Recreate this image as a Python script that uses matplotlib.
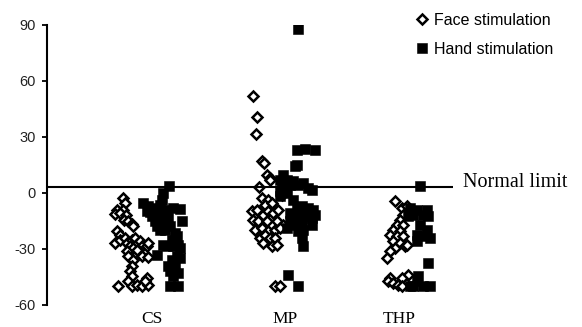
import matplotlib

matplotlib.use("Agg")
import matplotlib.pyplot as plt

categories = ["CS", "MP", "THP"]
category_x = [152, 285, 399]
normal_limit = 3
y_ticks = [-60, -30, 0, 30, 60, 90]

# Face stimulation (open diamonds): horizontal scatter position and value
cs_face_x = [123, 125, 117, 123, 115, 120, 126, 124, 128, 132, 133, 117, 120, 115, 120, 125,
             127, 132, 135, 137, 140, 143, 147, 148, 130, 133, 137, 127, 128, 133, 132, 130,
             132, 142, 148, 118, 128, 132, 137, 142, 147, 148, 145]
cs_face_y = [-2.7, -5.4, -8.9, -9.3, -11.3, -10.7, -11.6, -14.3, -15.2, -16.4, -17.9, -20.6,
             -22.3, -26.8, -25, -24.1, -26.8, -25.4, -24.1, -27.2, -25.9, -27.7, -28.6, -26.8,
             -28.6, -29.5, -30.4, -31.3, -34, -35.7, -39.3, -42, -44.3, -34, -34.3, -50, -47.4,
             -50, -49.1, -50, -45.5, -49.1, -47.4]
mp_face_x = [253, 257, 256, 262, 264, 267, 270, 270, 259, 262, 268, 265, 272, 252, 257, 263,
             268, 273, 278, 253, 258, 267, 277, 283, 255, 262, 268, 275, 280, 260, 265, 270,
             275, 263, 272, 277, 275, 280, 282]
mp_face_y = [52, 40.7, 31.6, 17.3, 16, 9.8, 8, 7.1, 3, -2.7, -3.6, -6.3, -5.4, -9.8, -8.9,
             -11.6, -9.8, -10.7, -8.9, -14.3, -15.2, -15.2, -15.2, -17, -19.7, -18.8, -20.6,
             -19.7, -18.8, -24.1, -22.3, -24.1, -24.1, -26.8, -28.6, -27.7, -50, -50, -0.9]
thp_face_x = [395, 402, 407, 403, 400, 397, 403, 393, 400, 390, 397, 403, 393, 400, 405, 395,
              390, 387, 407, 408, 402, 390, 388, 393, 398, 402]
thp_face_y = [-4.5, -8, -7.1, -11.6, -14.3, -17, -17, -19.7, -20.6, -22.3, -23.2, -23.2, -25.9,
              -26.8, -28.6, -29.5, -31.3, -34.8, -27.7, -43.8, -45.5, -45.5, -47.4, -48.2,
              -49.1, -50]

# Hand stimulation (filled squares)
cs_hand_x = [169, 163, 162, 160, 143, 148, 153, 157, 167, 173, 180, 182, 152, 155, 157, 160,
             165, 163, 168, 170, 175, 177, 172, 178, 180, 163, 157, 167, 173, 177, 180, 172,
             168, 175, 178, 170, 173, 178, 170, 147, 158, 162, 150, 165]
cs_hand_y = [3.5, 0, -3.6, -6.3, -5.4, -7.1, -8, -10.7, -8.9, -8, -8.6, -15.2, -12.3, -15.2,
             -17.9, -19.7, -16.1, -12.3, -13.4, -17.9, -21.4, -23.2, -25, -27.7, -29.5, -27.7,
             -33, -28.6, -28.6, -34, -34.8, -35.7, -39.3, -38.4, -42.9, -42, -44.6, -50, -50,
             -9.8, -12, -15, -10, -20]
mp_hand_x = [298, 297, 305, 315, 295, 297, 283, 280, 287, 293, 282, 290, 298, 303, 308, 312,
             280, 287, 280, 293, 297, 302, 308, 313, 290, 295, 300, 307, 312, 315, 290, 295,
             302, 312, 287, 298, 303, 302, 303, 288, 298]
mp_hand_y = [88, 23.2, 23.7, 23.2, 14.3, 15.2, 9.8, 7.1, 7.1, 6.2, 4.5, 4.5, 4.5, 5.4, 2.7,
             1.8, 0.9, 0, -1.8, -3.6, -8, -7.1, -8, -8.9, -10.7, -11.6, -12.5, -12.5, -13.4,
             -11.6, -15.2, -17, -16.1, -17, -18.8, -20.6, -19.7, -24.1, -28.6, -43.8, -50]
thp_hand_x = [420, 410, 417, 427, 413, 423, 428, 408, 420, 427, 417, 422, 430, 417, 428, 418,
              417, 413, 423, 430, 410]
thp_hand_y = [4, -8, -8.9, -8.9, -11.6, -11.6, -12.5, -12.5, -17, -19.7, -22.3, -23.2, -24.1,
              -25.9, -37.5, -44.6, -47.4, -50, -50, -50, -50]

fig = plt.figure(figsize=(5.82, 3.27), dpi=100)
ax = fig.add_axes([47 / 582, 22 / 327, 406 / 582, 280 / 327])

face_kw = dict(linestyle="none", marker="D", markersize=5.4, markerfacecolor="white",
               markeredgecolor="black", markeredgewidth=1.8)
hand_kw = dict(linestyle="none", marker="s", markersize=6.6, markerfacecolor="black",
               markeredgecolor="black", markeredgewidth=0.4)

ax.plot(cs_face_x, cs_face_y, label="Face stimulation", **face_kw)
ax.plot(mp_face_x, mp_face_y, **face_kw)
ax.plot(thp_face_x, thp_face_y, **face_kw)
ax.plot(cs_hand_x, cs_hand_y, label="Hand stimulation", **hand_kw)
ax.plot(mp_hand_x, mp_hand_y, **hand_kw)
ax.plot(thp_hand_x, thp_hand_y, **hand_kw)

ax.axhline(normal_limit, color="black", linewidth=1.5)
ax.text(463, normal_limit, "Normal limit", fontsize=14.5, family="Liberation Serif",
        va="baseline", ha="left", clip_on=False)

ax.set_xlim(47, 453)
ax.set_ylim(-60, 90)
ax.set_yticks(y_ticks)
ax.set_yticklabels([str(v) for v in y_ticks], fontsize=10.5, family="Liberation Sans",
                   color="#222222")
ax.tick_params(axis="y", direction="out", length=3.6, width=1.3, pad=4.5)
ax.set_xticks(category_x)
ax.set_xticklabels(categories, fontsize=12.5, family="Liberation Serif")
ax.tick_params(axis="x", length=0, pad=4)

for side in ("top", "right", "bottom"):
    ax.spines[side].set_visible(False)
ax.spines["left"].set_linewidth(1.5)

ax.legend(loc="upper left", bbox_to_anchor=(416 / 582, 1 - 13 / 327),
          bbox_transform=fig.transFigure, frameon=False, borderpad=0, borderaxespad=0,
          handlelength=0.8, handletextpad=0.3, labelspacing=0.85,
          prop={"family": "Liberation Sans", "size": 11.5})

fig.savefig("out.png", dpi=100, facecolor="white")
